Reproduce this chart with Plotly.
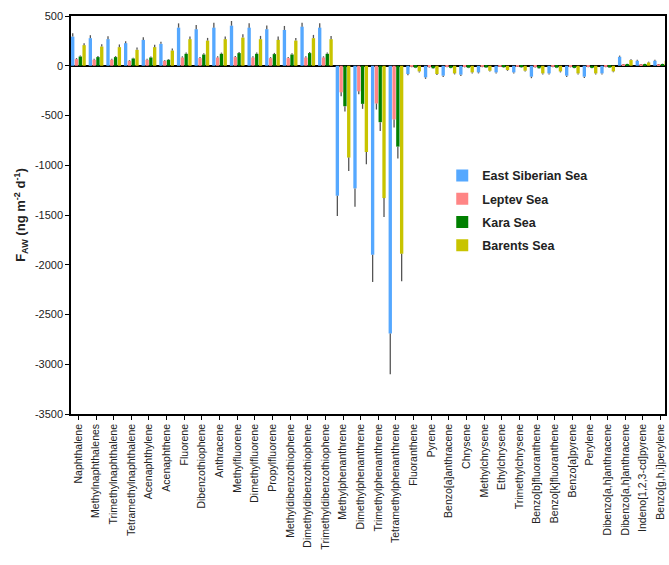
import plotly.graph_objects as go

categories = ["Naphthalene", "Methylnaphthalenes", "Trimethylnaphthalene", "Tetramethylnaphthalene",
              "Acenaphthylene", "Acenaphthene", "Fluorene", "Dibenzothiophene", "Anthracene",
              "Methylfluorene", "Dimethylfluorene", "Propylfluorene", "Methyldibenzothiophene",
              "Dimethyldibenzothiophene", "Trimethyldibenzothiophene", "Methylphenanthrene",
              "Dimethylphenanthrene", "Trimethylphenanthrene", "Tetramethylphenanthrene",
              "Fluoranthene", "Pyrene", "Benzo[a]anthracene", "Chrysene", "Methylchrysene",
              "Ethylchrysene", "Trimethylchrysene", "Benzo[b]fluoranthene", "Benzo[k]fluoranthene",
              "Benzo[a]pyrene", "Perylene", "Dibenzo[a,h]anthracene", "Dibenzo[a,h]anthracene",
              "Indeno[1,2,3-cd]pyrene", "Benzo[g,h,i]perylene"]

y_ticks = [-3500, -3000, -2500, -2000, -1500, -1000, -500, 0, 500]
y_tick_labels = ["-3500", "-3000", "-2500", "-2000", "-1500", "-1000", "-500", "0", "500"]

east_siberian = [293, 277, 267, 227, 260, 220, 383, 367, 383, 403, 383, 367, 360, 393, 383,
                 -1307, -1233, -1900, -2690,
                 -83, -117, -100, -90, -67, -67, -67, -110, -77, -100, -110, -77, 90, 50, 50]
east_siberian_err = [33, 30, 30, 20, 27, 20, 43, 43, 50, 47, 43, 37, 40, 40, 43,
                     203, 184, 273, 410,
                     12, 15, 12, 12, 10, 10, 10, 15, 12, 12, 12, 10, 12, 10, 10]

laptev = [67, 60, 60, 50, 60, 50, 83, 77, 83, 87, 83, 77, 77, 83, 83,
          -267, -257, -380, -540,
          -10, -15, -12, -12, -10, -8, -8, -15, -10, -12, -12, -10, 10, 8, 8]
laptev_err = [10, 10, 10, 8, 10, 8, 12, 10, 12, 12, 12, 10, 10, 12, 12,
              40, 30, 60, 80,
              4, 4, 4, 4, 4, 4, 4, 4, 4, 4, 4, 4, 4, 4, 4]

kara = [93, 87, 87, 73, 83, 60, 120, 113, 120, 127, 120, 117, 113, 127, 120,
        -407, -383, -567, -813,
        -20, -25, -22, -20, -18, -15, -15, -25, -20, -22, -22, -18, 17, 17, 17]
kara_err = [10, 10, 10, 8, 10, 8, 12, 12, 12, 12, 12, 12, 12, 12, 12,
            53, 50, 90, 120,
            4, 4, 4, 4, 4, 4, 4, 4, 4, 4, 4, 4, 4, 4, 4]

barents = [207, 193, 187, 160, 187, 153, 267, 253, 267, 283, 267, 260, 253, 277, 267,
           -923, -867, -1330, -1890,
           -57, -83, -77, -67, -50, -43, -50, -77, -57, -77, -77, -57, 57, 33, 50]
barents_err = [20, 23, 27, 23, 23, 20, 27, 27, 27, 33, 33, 33, 27, 33, 33,
               134, 123, 190, 277,
               10, 10, 10, 10, 8, 8, 8, 10, 10, 10, 10, 8, 8, 8, 8]

series = [
    ("East Siberian Sea", east_siberian, east_siberian_err, "#55a8ff"),
    ("Leptev Sea", laptev, laptev_err, "#ff8585"),
    ("Kara Sea", kara, kara_err, "#008000"),
    ("Barents Sea", barents, barents_err, "#c8c400"),
]

fig = go.Figure()
for i, (name, vals, errs, color) in enumerate(series):
    plus = [e if v >= 0 else 0 for v, e in zip(vals, errs)]
    minus = [e if v < 0 else 0 for v, e in zip(vals, errs)]
    fig.add_trace(go.Bar(
        name="<b>" + name + "</b>", legendgroup="g%d" % i,
        x=list(range(len(categories))), y=vals,
        marker=dict(color=color, line=dict(width=0)),
        error_y=dict(type="data", symmetric=False, array=plus, arrayminus=minus,
                     color="#555555", thickness=1.3, width=0),
    ))

fig.update_layout(
    width=669, height=565,
    margin=dict(l=71, r=4, t=16, b=151, autoexpand=False),
    plot_bgcolor="white", paper_bgcolor="white",
    barmode="group", bargap=0.14, bargroupgap=0.12,
    font=dict(family="Liberation Sans, Arial, sans-serif", size=11, color="#222222"),
    legend=dict(x=0.625, y=0.636, xanchor="left", yanchor="top",
                font=dict(size=12.5, family="Liberation Sans, Arial, sans-serif", color="#222222"),
                bgcolor="rgba(0,0,0,0)", tracegroupgap=4),
    showlegend=True,
)

fig.update_xaxes(
    range=[-0.42, 33.25], automargin=False,
    tickmode="array", tickvals=list(range(len(categories))), ticktext=categories,
    tickangle=-90, tickfont=dict(size=10.5),
    showline=True, linecolor="black", linewidth=1.5, mirror=True,
    ticks="outside", ticklen=4, tickwidth=1.2, tickcolor="black",
    showgrid=False, zeroline=False,
)
fig.update_yaxes(
    range=[-3500, 500], automargin=False,
    tickmode="array", tickvals=y_ticks, ticktext=y_tick_labels,
    tickfont=dict(size=11),
    showline=True, linecolor="black", linewidth=1.5, mirror=True,
    ticks="outside", ticklen=4, tickwidth=1.2, tickcolor="black",
    showgrid=False, zeroline=True, zerolinecolor="black", zerolinewidth=1.5,
    title=dict(text="<b>F<sub>AW</sub> (ng m<sup>-2</sup> d<sup>-1</sup>)</b>", font=dict(size=13), standoff=6),
)

fig.write_html("out.html", config={"displayModeBar": False},
               post_script="document.body.style.margin='0px';")
